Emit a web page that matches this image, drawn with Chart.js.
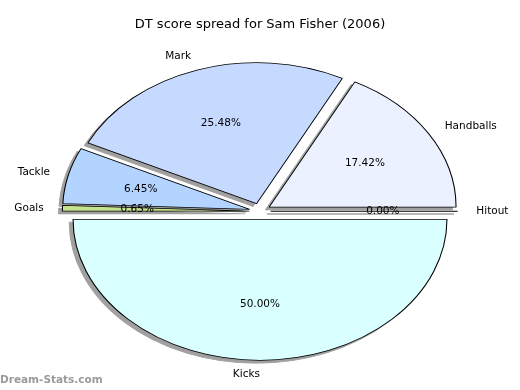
<!DOCTYPE html>
<html>
<head>
<meta charset="utf-8">
<script src="https://cdn.jsdelivr.net/npm/chart.js@4"></script>
<style>
  html, body { margin: 0; padding: 0; background: #fff; }
</style>
</head>
<body>
<canvas id="pieChart" width="520" height="390"></canvas>
<script>
// DT points per stat, in the original (counter-clockwise) slice order
const categories = ['Handballs', 'Mark', 'Tackle', 'Goals', 'Kicks', 'Hitout'];
const points = [162, 237, 60, 6, 465, 0];
const sliceColors = ['#ebf1ff', '#c6d9ff', '#b3d4ff', '#c8e38f', '#d9ffff', '#ffffff'];

const stretchX = 1.326;   // pie is drawn as an ellipse
const explode = 0.057;    // fraction of radius every slice is pushed out
const shadowColor = '#a0a0a0';

const total = points.reduce((a, b) => a + b, 0);

// chart.js goes clockwise, so feed the slices in reverse
const drawLabels = categories.slice().reverse();
const drawValues = points.slice().reverse();
const drawColors = sliceColors.slice().reverse();

const piePlugin = {
    id: 'ellipsePie',
    beforeDatasetsDraw(chart) {
        const ctx = chart.ctx;
        const arcs = chart.getDatasetMeta(0).data;
        const cx = arcs[0].x;
        const cy = arcs[0].y;
        const r = arcs[0].outerRadius;

        ctx.save();
        ctx.translate(cx, cy);
        ctx.scale(stretchX, 1);
        ctx.translate(-cx, -cy);

        // shadows first, then the wedges on top
        [true, false].forEach(shadow => {
            arcs.forEach(arc => {
                const mid = (arc.startAngle + arc.endAngle) / 2;
                const d = explode * r;
                ctx.save();
                ctx.translate(Math.cos(mid) * d, Math.sin(mid) * d);
                if (shadow) ctx.translate(-0.02 * r, 0.02 * r);

                if (arc.circumference === 0) {
                    ctx.beginPath();
                    ctx.moveTo(arc.x, arc.y);
                    ctx.lineTo(arc.x + Math.cos(arc.startAngle) * r, arc.y + Math.sin(arc.startAngle) * r);
                    ctx.lineWidth = shadow ? 1.5 : 0.9;
                    ctx.strokeStyle = shadow ? shadowColor : '#000';
                    ctx.stroke();
                } else {
                    const o = arc.options;
                    if (shadow) {
                        arc.options = Object.assign({}, o, { backgroundColor: shadowColor, borderColor: shadowColor });
                    }
                    arc.draw(ctx);
                    arc.options = o;
                }
                ctx.restore();
            });
        });

        ctx.restore();
        return false;
    },
    afterDraw(chart) {
        const ctx = chart.ctx;
        const arcs = chart.getDatasetMeta(0).data;
        const labels = chart.data.labels;
        const values = chart.data.datasets[0].data;

        ctx.save();
        ctx.font = '10.5px "DejaVu Sans"';
        ctx.fillStyle = '#000';
        ctx.textBaseline = 'middle';

        arcs.forEach((arc, i) => {
            const r = arc.outerRadius;
            const mid = (arc.startAngle + arc.endAngle) / 2;
            const c = Math.cos(mid);
            const s = Math.sin(mid);
            const d = explode * r;

            ctx.textAlign = c > 1e-9 ? 'left' : 'right';
            ctx.fillText(labels[i], arc.x + (d + 1.1 * r) * c * stretchX, arc.y + (d + 1.1 * r) * s);

            const pct = (values[i] / total * 100).toFixed(2) + '%';
            ctx.textAlign = 'center';
            ctx.fillText(pct, arc.x + (d + 0.6 * r) * c * stretchX, arc.y + (d + 0.6 * r) * s);
        });

        ctx.font = 'bold 10.5px "DejaVu Sans"';
        ctx.fillStyle = '#9a9a9a';
        ctx.textAlign = 'left';
        ctx.fillText('Dream-Stats.com', 0, 380);
        ctx.restore();
    }
};

const pieChart = new Chart(document.getElementById('pieChart').getContext('2d'), {
    type: 'pie',
    data: {
        labels: drawLabels,
        datasets: [{
            data: drawValues,
            backgroundColor: drawColors,
            borderColor: '#000',
            borderWidth: 0.8,
            radius: 141,
            clip: false
        }]
    },
    options: {
        responsive: false,
        animation: false,
        events: [],
        rotation: 90,
        layout: { padding: { bottom: 10 } },
        plugins: {
            legend: { display: false },
            tooltip: { enabled: false },
            title: {
                display: true,
                text: 'DT score spread for Sam Fisher (2006)',
                color: '#000',
                font: { family: 'DejaVu Sans', size: 13, weight: 'normal' },
                padding: { top: 17, bottom: 10 }
            }
        }
    },
    plugins: [piePlugin]
});
</script>
</body>
</html>
